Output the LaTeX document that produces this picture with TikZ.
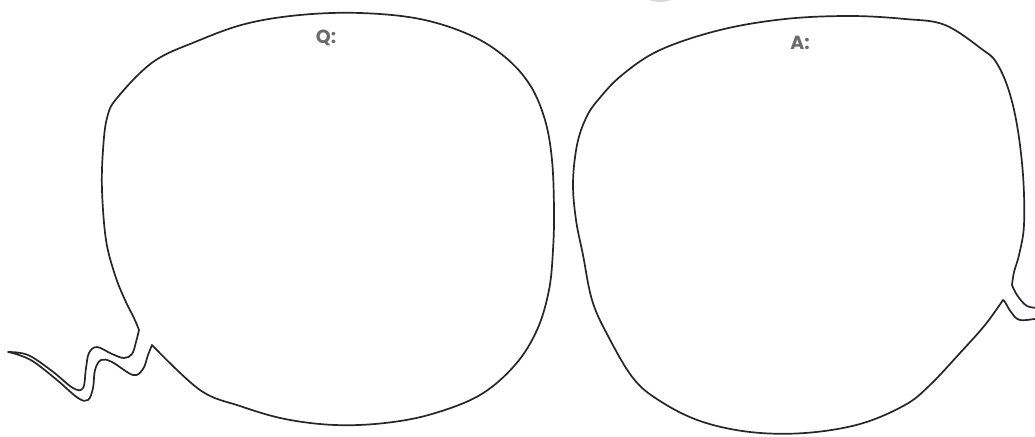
\documentclass[tikz,border=0pt]{standalone}
\usepackage{fontspec}
\newfontfamily\labelfont{Poppins}
\usepackage{tikz}
\definecolor{inkc}{HTML}{262626}
\definecolor{labelc}{HTML}{6A6A6A}
\tikzset{
  bubbleline/.style={draw=inkc, line width=1.7pt, line join=round, fill=white},
  labeltext/.style={font=\labelfont\bfseries\fontsize{19}{19}\selectfont, text=labelc, inner sep=0pt},
}
\begin{document}
\begin{tikzpicture}[x=1pt, y=-1pt]
  \useasboundingbox (0,0) rectangle (1035,436);
  \clip (0,0) rectangle (1035,436);
  % faint mark at the top edge
  \fill[black!15] (660,-3) ellipse (13 and 5);
  % left bubble with its wavy tail
  \draw[bubbleline] plot[smooth, tension=0.6] coordinates {
      (152,345) (200,390) (240,406) (285,419) (335,425) (385,423) (432,414)
      (480,395) (515,365) (537,330) (549,290) (553,250) (554,210) (552,160)
      (545,120) (530,85) (505,57) (470,35) (420,19) (360,13) (300,15)
      (245,24) (195,42) (153,62) (117,98) (107,118) (103,150) (102,190)
      (106,240) (115,275) (125,300) (134,318) (139,330)}
    -- plot[smooth, tension=0.6] coordinates {
      (139,330) (136,342) (132,354) (124,358) (112,354) (97,347) (89,353)
      (86,368) (83,388) (73,388) (52,371) (28,355) (8,352)}
    -- plot[smooth, tension=0.6] coordinates {
      (8,352) (19,355) (34,362) (57,380) (78,398) (88,400) (93,388)
      (95,370) (101,360) (112,362) (133,375) (143,369) (148,355) (152,345)}
    -- cycle;
  % right bubble, tail leaves the picture
  \draw[bubbleline] plot[smooth, tension=0.6] coordinates {
      (1003,300) (985,325) (960,353) (930,385) (905,405) (860,424) (805,433)
      (750,432) (700,421) (660,401) (633,378) (607,334) (592,300) (583,255)
      (576,220) (573,183) (577,145) (586,118) (598,100) (622,75) (660,50)
      (720,30) (785,19) (850,16) (905,19) (945,25) (983,50) (996,62)
      (1008,88) (1017,125) (1023,175) (1024,225) (1019,255) (1014,272)
      (1012,285)}
    -- plot[smooth, tension=0.6] coordinates {
      (1012,285) (1017,295) (1027,306) (1040,308)}
    -- (1040,318)
    -- plot[smooth, tension=0.6] coordinates {
      (1040,318) (1020,320) (1011,312) (1005,302) (1003,300)}
    -- cycle;
  \node[labeltext] (qlabel) at (326,38) {Q:};
  \node[labeltext] (alabel) at (800,43) {A:};
\end{tikzpicture}
\end{document}
